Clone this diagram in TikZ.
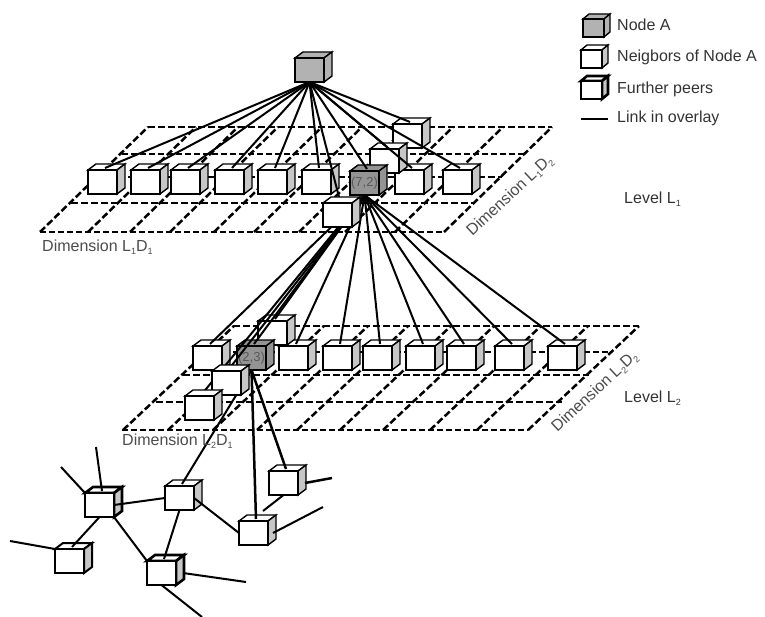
\documentclass[tikz,border=0pt]{standalone}
\usepackage{fontspec}
\setmainfont{Liberation Sans}
\pgfdeclarelayer{gridl}\pgfdeclarelayer{backc}\pgfdeclarelayer{links}
\pgfsetlayers{gridl,backc,links,main}
\tikzset{
  x=1pt,y=-1pt,
  front/.style={draw,fill=white,rectangle,minimum width=29pt,minimum height=24pt,inner sep=0pt,outer sep=0pt,anchor=north west,line width=1.4pt,font=\fontsize{13}{13}\selectfont,text=black!65},
  smallfront/.style={front,minimum width=21pt,minimum height=18pt},
  nodeA/.style={fill=black!30},
  thickc/.style={line width=2.6pt},
  midc/.style={line width=2pt},
  link/.style={line width=2pt},
  strong/.style={line width=2.5pt},
  thingrid/.style={line width=1.3pt,dash pattern=on 6pt off 3pt},
  boldgrid/.style={line width=2.5pt,dash pattern=on 7pt off 3pt},
  lab/.style={font=\fontsize{16}{17}\selectfont,inner sep=0pt,text=black!80},
  dimlab/.style={font=\fontsize{16}{17}\selectfont,inner sep=0pt,text=black!70},
}
\newcommand\pcube[6][]{% style, name, x, y, top fill, text
  \fill[#5,draw=black,line width=1.4pt,#1] (#3,#4) -- ++(8,-6) -- ++(29,0) -- ++(-8,6) -- cycle;
  \fill[black!22,draw=black,line width=1.4pt,#1] (#3+29,#4) -- ++(8,-6) -- ++(0,24) -- ++(-8,6) -- cycle;
  \node[front,#1] (#2) at (#3,#4) {#6};
  \coordinate (#2-t) at (#3+17,#4-2);
}
\newcommand\lcube[5][]{% style, name, x, y, top fill
  \fill[#5,draw=black,line width=1.4pt,#1] (#3,#4) -- ++(6,-5) -- ++(21,0) -- ++(-6,5) -- cycle;
  \fill[black!22,draw=black,line width=1.4pt,#1] (#3+21,#4) -- ++(6,-5) -- ++(0,18) -- ++(-6,5) -- cycle;
  \node[smallfront,#1] (#2) at (#3,#4) {};
}
\newcommand\lowidx[1]{\raisebox{-3.5pt}{\fontsize{9}{9}\selectfont #1}}
\begin{document}
\begin{tikzpicture}
\useasboundingbox (0,0) rectangle (765,617);
% ---------- grids
\begin{pgfonlayer}{gridl}
\coordinate (g1a) at (148,127); \coordinate (g1b) at (552,127);
\coordinate (g1c) at (40,232);  \coordinate (g1d) at (444,232);
\draw[boldgrid] (g1a) -- (g1b);
\draw[thingrid] (122,154) -- (526,154);
\draw[boldgrid] (98,177) -- (502,177);
\draw[boldgrid] (71,203) -- (475,203);
\draw[thingrid] (g1c) -- (g1d);
\foreach \x in {40,88,130,170,214,254,299,345,395,444}
  \draw[boldgrid] (\x,232) -- (\x+108,127);
\draw[boldgrid] (233,326) -- (639,326);
\draw[thingrid] (206,352) -- (612,352);
\draw[boldgrid] (183,375) -- (589,375);
\draw[boldgrid] (156,402) -- (562,402);
\draw[thingrid] (122,430) -- (528,430);
\foreach \x in {123,168,213,257,297,340,383,430,477,528}
  \draw[boldgrid] (\x,430) -- (\x+111,326);
\end{pgfonlayer}
% ---------- cubes behind the links
\begin{pgfonlayer}{backc}
\pcube[nodeA]{top}{295}{58}{black!15}{}
\pcube{a1}{88}{170}{white}{}
\pcube{a2}{131}{170}{white}{}
\pcube{a3}{171}{170}{white}{}
\pcube{a4}{215}{170}{white}{}
\pcube{a5}{258}{170}{white}{}
\pcube{a6}{302}{170}{white}{}
\pcube{a8}{395}{170}{white}{}
\pcube{a9}{443}{170}{white}{}
\pcube{ab2}{393}{124}{white}{}
\pcube{ab1}{370}{149}{white}{}
\pcube[nodeA,fill=black!42]{a7}{350}{171}{black!42}{(7,2)}
\pcube{b1}{193}{346}{white}{}
\pcube{b3}{279}{346}{white}{}
\pcube{b4}{323}{346}{white}{}
\pcube{b5}{363}{346}{white}{}
\pcube{b6}{406}{346}{white}{}
\pcube{b7}{447}{346}{white}{}
\pcube{b8}{495}{346}{white}{}
\pcube{b9}{548}{346}{white}{}
\pcube{bb}{258}{321}{white}{}
\pcube[nodeA,fill=black!42]{b2}{237}{346}{black!42}{(2,3)}
\pcube{c}{269}{471}{white}{}
\pcube{d}{239}{521}{white}{}
\pcube{e}{165}{486}{white}{}
\pcube[midc]{g}{55}{549}{white}{}
\pcube[thickc]{f}{85}{493}{white}{}
\pcube[thickc]{h}{147}{561}{white}{}
\end{pgfonlayer}
% ---------- cubes in front of the links
\pcube{af}{323}{203}{white}{}
\pcube{bf}{212}{371}{white}{}
\pcube{bl}{185}{396}{white}{}
% ---------- free ends
\coordinate (f1) at (61,467);
\coordinate (f2) at (96,447);
\coordinate (c1) at (332,478);
\coordinate (d1) at (323,507);
\coordinate (g1) at (10,541);
\coordinate (h1) at (246,582);
\coordinate (h2) at (202,617);
\coordinate (cd) at (263,511);
% ---------- links
\begin{pgfonlayer}{links}
\foreach \t in {a1,a2,a3,a4,a5,a6,a7,a8,a9,ab1,ab2,af}
  \draw[link] (top.south) -- (\t-t);
\foreach \t in {b1,b3,b4,b5,b6,b7,b8,b9,b2,bb,bf,bl}
  \draw[link] (a7.south) -- (\t-t);
\draw[strong] (b2.south) -- (c-t);
\draw[strong] (b2.south) -- (d-t);
\draw[link] (b2.south) -- (e-t);
\draw[link] (f.east) -- (e.west);
\draw[link] (f.south) -- (g-t);
\draw[link] (f.south east) -- (h.north west);
\draw[link] (e.south) -- (h-t);
\draw[link] (e.east) -- (d.west);
\draw[link] (c.south) -- (cd);
\draw[link] (f.north west) -- (f1);
\draw[link] (f-t) -- (f2);
\draw[strong] (c.east) ++(7,0) -- (c1);
\draw[link] (d.east) ++(5,0) -- (d1);
\draw[link] (g.north west) -- (g1);
\draw[link] (h.east) ++(7,0) -- (h1);
\draw[link] (h.south) -- (h2);
\end{pgfonlayer}
% ---------- labels
\node[dimlab,anchor=west] (l1) at (42,247) {Dimension L\lowidx{1}D\lowidx{1}};
\node[dimlab,anchor=west] (l2) at (122,441) {Dimension L\lowidx{2}D\lowidx{1}};
\node[dimlab,rotate=43] (l3) at (510,196) {Dimension L\lowidx{1}D\lowidx{2}};
\node[dimlab,rotate=43] (l4) at (595,392) {Dimension L\lowidx{2}D\lowidx{2}};
\node[lab,anchor=west] (l5) at (624,199) {Level L\lowidx{1}};
\node[lab,anchor=west] (l6) at (624,398) {Level L\lowidx{2}};
% ---------- legend
\lcube[nodeA]{k1}{583}{19}{black!15}
\lcube{k2}{581}{50}{white}
\lcube[thickc]{k3}{581}{81}{white}
\coordinate (k4a) at (581,119); \coordinate (k4b) at (608,119);
\draw[strong] (k4a) -- (k4b);
\node[lab,anchor=west] (t1) at (617,25) {Node A};
\node[lab,anchor=west] (t2) at (617,57) {Neigbors of Node A};
\node[lab,anchor=west] (t3) at (617,89) {Further peers};
\node[lab,anchor=west] (t4) at (617,118) {Link in overlay};
\end{tikzpicture}
\end{document}
